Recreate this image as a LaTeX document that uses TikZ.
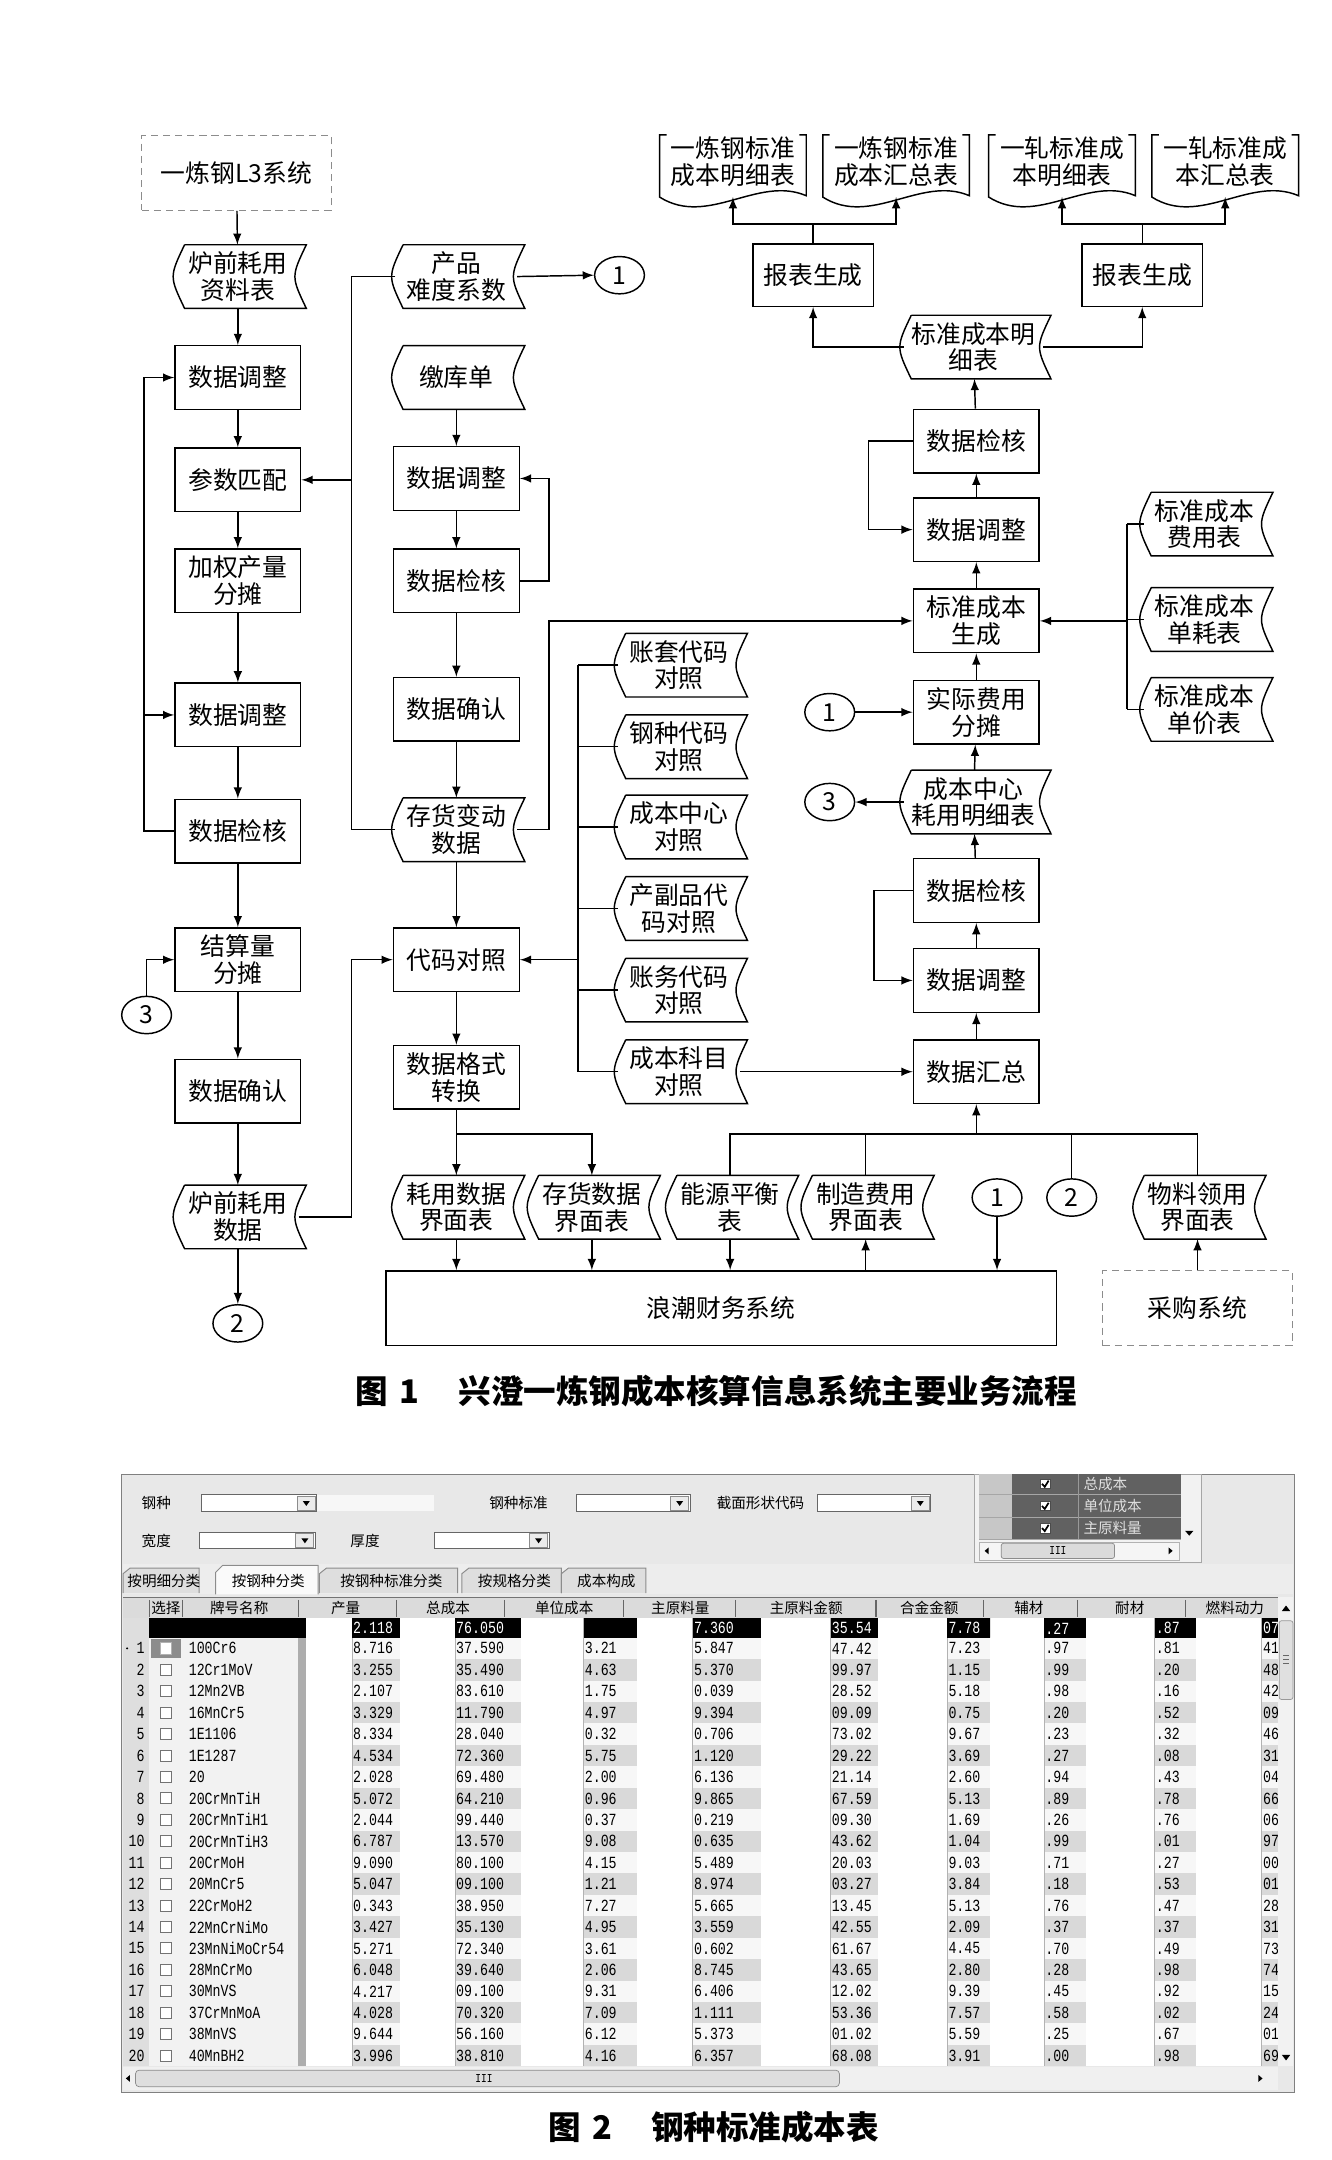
\documentclass[tikz,border=0pt]{standalone}
\usepackage{fontspec}
\setmainfont{Noto Sans CJK SC}
\newfontfamily\numfont[FakeStretch=0.78]{Liberation Mono}
\usetikzlibrary{positioning,arrows,calc,shapes.geometric}

\newcommand\flowfont{\fontsize{10.2}{11}\selectfont}
\newcommand\tabfont{\fontsize{6}{7}\selectfont}
\newcommand\numf{\numfont\fontsize{7}{7}\selectfont}

\tikzset{
  box/.style={draw, minimum width=1.82cm, minimum height=0.92cm, inner sep=0pt, align=center, font=\flowfont},
  repbox/.style={box, minimum width=1.74cm, minimum height=0.9cm},
  sysbox/.style={draw=black!45, densely dashed, line width=0.5pt, minimum width=2.74cm, minimum height=1.08cm, inner sep=0pt, font=\flowfont},
  tape/.style={minimum width=1.74cm, minimum height=0.9cm, inner sep=0pt, align=center, font=\flowfont},
  widetape/.style={tape, minimum width=2cm},
  doc/.style={minimum width=2.1cm, minimum height=0.76cm, inner sep=0pt, align=center, font=\flowfont},
  conn/.style={draw, ellipse, minimum width=0.72cm, minimum height=0.54cm, inner sep=0pt, font=\flowfont},
  lbl/.style={font=\tabfont, inner sep=0pt},
  num/.style={font=\numf, inner sep=0pt, anchor=west},
  capt/.style={font=\fontsize{13.4}{15}\selectfont\bfseries},
}

\begin{document}
\begin{tikzpicture}[x=0.02cm, y=-0.02cm, >=latex, line width=0.6pt]
   \useasboundingbox (0,0) rectangle (963,1562);
   % bus lines
   \coordinate (lbus) at (104,0);
   \coordinate (mbus) at (254,0);
   \coordinate (sbus) at (397,0);
   \coordinate (kbus) at (418,0);
   \coordinate (rbus) at (815,0);
   \coordinate (bbus) at (0,820);
   \coordinate (tbus) at (0,162);

   % left column
   \node[sysbox] (l3)     at (171,125) {一炼钢L3系统};
   \node[tape]   (lqt)    at (172,200) {炉前耗用\\资料表};
   \node[box]    (ladj1)  at (172,273) {数据调整};
   \node[box]    (lmatch) at (172,347) {参数匹配};
   \node[box]    (lweight) at (172,420) {加权产量\\分摊};
   \node[box]    (ladj2)  at (172,517) {数据调整};
   \node[box]    (lchk)   at (172,601) {数据检核};
   \node[box]    (lsettle) at (172,694) {结算量\\分摊};
   \node[box]    (lconf)  at (172,789) {数据确认};
   \node[tape]   (lqdata) at (172,880) {炉前耗用\\数据};
   \node[conn]   (c2a)    at (172,957) {2};
   \node[conn]   (c3a)    at (106,734) {3};

   % middle column
   \node[tape]   (mdiff)  at (330,200) {产品\\难度系数};
   \node[conn]   (c1a)    at (448,199) {1};
   \node[tape]   (mstore) at (330,273) {缴库单};
   \node[box]    (madj)   at (330,346) {数据调整};
   \node[box]    (mchk)   at (330,420) {数据检核};
   \node[box]    (mconf)  at (330,513) {数据确认};
   \node[tape]   (mstock) at (330,600) {存货变动\\数据};
   \node[box]    (mcode)  at (330,694) {代码对照};
   \node[box]    (mfmt)   at (330,779) {数据格式\\转换};

   % code tables
   \node[tape] (k1) at (491,481) {账套代码\\对照};
   \node[tape] (k2) at (491,540) {钢种代码\\对照};
   \node[tape] (k3) at (491,598) {成本中心\\对照};
   \node[tape] (k4) at (491,657) {产副品代\\码对照};
   \node[tape] (k5) at (491,716) {账务代码\\对照};
   \node[tape] (k6) at (491,775) {成本科目\\对照};

   % right column
   \node[widetape] (rdet)  at (704,251) {标准成本明\\细表};
   \node[box]    (rchk1)  at (706,319) {数据检核};
   \node[box]    (radj1)  at (706,383) {数据调整};
   \node[box]    (rgen)   at (706,449) {标准成本\\生成};
   \node[box]    (ralloc) at (706,515) {实际费用\\分摊};
   \node[widetape] (rcc)   at (704,580) {成本中心\\耗用明细表};
   \node[box]    (rchk2)  at (706,644) {数据检核};
   \node[box]    (radj2)  at (706,709) {数据调整};
   \node[box]    (rsum)   at (706,775) {数据汇总};
   \node[conn]   (c1b)    at (600,515) {1};
   \node[conn]   (c3b)    at (600,580) {3};

   % reports
   \node[repbox] (rep1) at (588,199) {报表生成};
   \node[repbox] (rep2) at (826,199) {报表生成};
   \node[doc] (d1) at (530,117) {一炼钢标准\\成本明细表};
   \node[doc] (d2) at (648,117) {一炼钢标准\\成本汇总表};
   \node[doc] (d3) at (768,117) {一轧标准成\\本明细表};
   \node[doc] (d4) at (886,117) {一轧标准成\\本汇总表};
   \foreach \d in {d1,d2,d3,d4} \coordinate (\d w) at ($(\d.south)+(0,6)$);

   % standard tables
   \node[tape] (s1) at (871,379) {标准成本\\费用表};
   \node[tape] (s2) at (871,448) {标准成本\\单耗表};
   \node[tape] (s3) at (871,513) {标准成本\\单价表};

   % bottom row
   \node[tape] (b1) at (330,873) {耗用数据\\界面表};
   \node[tape] (b2) at (428,873) {存货数据\\界面表};
   \node[tape] (b3) at (528,873) {能源平衡\\表};
   \node[tape] (b4) at (626,873) {制造费用\\界面表};
   \node[conn] (c1c) at (721,866) {1};
   \node[conn] (c2b) at (775,866) {2};
   \node[tape] (b5) at (866,873) {物料领用\\界面表};
   \node[draw, minimum width=9.7cm, minimum height=1.08cm, inner sep=0pt, font=\flowfont] (erp) at (521.5,946) {浪潮财务系统};
   \node[sysbox] (buy) at (866,946) {采购系统};

   % tape and document outlines
   \foreach \t in {lqt,lqdata,mdiff,mstore,mstock,k1,k2,k3,k4,k5,k6,rdet,rcc,s1,s2,s3,b1,b2,b3,b4,b5}
     \draw ([xshift=0.11cm]\t.north west) -- ([xshift=0.11cm]\t.north east)
       .. controls ([xshift=-0.11cm]\t.east) .. ([xshift=0.11cm]\t.south east)
       -- ([xshift=0.11cm]\t.south west)
       .. controls ([xshift=-0.11cm]\t.west) .. ([xshift=0.11cm]\t.north west);
   \foreach \d in {d1,d2,d3,d4}
     \draw ($(\d.north west)+(5,0)$) -- (\d.north west) -- ($(\d.south west)+(0,6)$)
       .. controls ($(\d.south west)+(35,28)$) and ($(\d.south east)+(-35,-10)$) .. ($(\d.south east)+(0,5)$)
       -- (\d.north east) -- ++(-5,0);

   % connectors
   \foreach \a/\b in {l3/lqt,lqt/ladj1,ladj1/lmatch,lmatch/lweight,lweight/ladj2,ladj2/lchk,lchk/lsettle,lsettle/lconf,lconf/lqdata,lqdata/c2a,
       mstore/madj,madj/mchk,mchk/mconf,mconf/mstock,mstock/mcode,mcode/mfmt,mfmt/b1,
       rsum/radj2,radj2/rchk2,rchk2/rcc,rcc/ralloc,ralloc/rgen,rgen/radj1,radj1/rchk1,rchk1/rdet}
     \draw[->] (\a) -- (\b);
   \draw[->] (lchk.west) -- (lchk.west -| lbus) -- (lbus |- ladj1.west) -- (ladj1.west);
   \draw[->] (lbus |- ladj2.west) -- (ladj2.west);
   \draw[->] (c3a.north) |- (lsettle.west);
   \draw[->] (mdiff.east) -- (c1a.west);
   \draw (mdiff.west) -- (mdiff.west -| mbus) -- (mbus |- mstock.west) -- (mstock.west);
   \draw[->] (mbus |- lmatch.east) -- (lmatch.east);
   \draw[->] (mchk.east) -- (mchk.east -| sbus) -- (sbus |- madj.east) -- (madj.east);
   \draw[->] (mstock.east) -- (mstock.east -| sbus) |- (rgen.west);
   \draw[->] (lqdata.east) -- (lqdata.east -| mbus) |- (mcode.west);
   \draw[->] (mfmt.south |- bbus) -| (b2.north);
   \foreach \k in {k1,k2,k3,k4,k5,k6} \draw (\k.west) -- (\k.west -| kbus);
   \draw (kbus |- k1.west) -- (kbus |- k6.west);
   \draw[->] (kbus |- mcode.east) -- (mcode.east);
   \draw[->] (k6.east) -- (rsum.west);
   \draw[->] (rchk1.west) -- ++(-32,0) |- (radj1.west);
   \draw[->] (rchk2.west) -- ++(-28,0) |- (radj2.west);
   \draw[->] (c1b) -- (ralloc);
   \draw[->] (rcc) -- (c3b);
   \draw[->] (rdet.west) -| (rep1.south);
   \draw[->] (rdet.east) -| (rep2.south);
   \draw[->] (rep1.north) -- (rep1.north |- tbus) -| (d1w);
   \draw[->] (rep1.north |- tbus) -| (d2w);
   \draw[->] (rep2.north) -- (rep2.north |- tbus) -| (d3w);
   \draw[->] (rep2.north |- tbus) -| (d4w);
   \foreach \s in {s1,s2,s3} \draw (\s.west) -- (\s.west -| rbus);
   \draw (rbus |- s1.west) -- (rbus |- s3.west);
   \draw[->] (rbus |- rgen.east) -- (rgen.east);
   \draw (b3.north) -- (b3.north |- bbus) -- (b5.north |- bbus) -- (b5.north);
   \foreach \n in {b4,c2b} \draw (\n.north) -- (\n.north |- bbus);
   \draw[->] (rsum.south |- bbus) -- (rsum.south);
   \foreach \n in {b1,b2,b3,c1c} \draw[->] (\n.south) -- (\n.south |- erp.north);
   \draw[->] (b4.south |- erp.north) -- (b4.south);
   \draw[->] (buy) -- (b5);

   \node[capt] (cap1) at (518,1006) {图\hspace{0.35em}1\hspace{1.2em}兴澄一炼钢成本核算信息系统主要业务流程};

   % screenshot: frame and filters
   \filldraw[fill=black!9, draw=black!50, line width=0.5pt] (88,1066) rectangle (936,1513);
   \node[lbl] at (113,1087) {钢种};
   \node[lbl] at (113,1114) {宽度};
   \node[lbl] at (375,1087) {钢种标准};
   \node[lbl] at (264,1114) {厚度};
   \node[lbl] at (550,1087) {截面形状代码};
   \fill[black!3] (229,1081) rectangle (314,1093);
   \foreach \xa/\xb/\yc in {146/229/1087, 417/499/1087, 591/673/1087, 144/228/1114, 314/397/1114} {
     \filldraw[fill=white, draw=black!60, line width=0.4pt] (\xa,\yc-6) rectangle (\xb,\yc+6);
     \filldraw[fill=black!8, draw=black!45, line width=0.4pt] (\xb-14,\yc-5) rectangle (\xb-1,\yc+5);
     \fill (\xb-10,\yc-1.5) -- (\xb-5,\yc-1.5) -- (\xb-7.5,\yc+2) -- cycle;
   }
   % column picker
   \filldraw[fill=black!5, draw=black!35, line width=0.4pt] (705,1066) rectangle (869,1130);
   \fill[black!22] (708,1066) rectangle (732,1113);
   \fill[black!62] (732,1066) rectangle (854,1113);
   \foreach \yc/\t in {1073/总成本, 1089/单位成本, 1105/主原料量} {
     \draw[black!35, line width=0.4pt] (708,\yc+8) -- (854,\yc+8);
     \filldraw[fill=white, draw=black!70, line width=0.3pt] (752,\yc-3.5) rectangle (759.5,\yc+3.5);
     \draw[line width=0.7pt] (753.5,\yc) -- (755.5,\yc+2.2) -- (758.3,\yc-2.3);
     \node[lbl, anchor=west, text=black!12] at (783,\yc) {\t};
   }
   \draw[black!40, line width=0.4pt] (780,1066) -- (780,1113);
   \filldraw[fill=black!4, draw=black!30, line width=0.3pt] (708,1115) rectangle (853,1128);
   \filldraw[fill=black!14, draw=black!45, line width=0.3pt, rounded corners=1pt] (724,1116) rectangle (806,1127);
   \node[font=\numfont\fontsize{5}{5}\selectfont, inner sep=0pt] at (765,1121.5) {III};
   \fill (712,1121.5) -- (715,1119) -- (715,1124) -- cycle;
   \fill (848,1121.5) -- (845,1119) -- (845,1124) -- cycle;
   \fill (857,1107) -- (863,1107) -- (860,1110.5) -- cycle;

   % tabs
   \fill[black!7] (89,1131) rectangle (935,1153);
   \foreach \xa/\xb/\t in {89/144/按明细分类, 231/331/按钢种标准分类, 334/406/按规格分类, 406/467/成本构成} {
     \filldraw[fill=black!13, draw=black!45, line width=0.4pt] (\xa,1152) -- (\xa,1138) -- (\xa+5,1134) -- (\xb,1134) -- (\xb,1152);
     \node[lbl] at ({(\xa+\xb)/2+2},1143) {\t};
   }
   \filldraw[fill=black!2, draw=black!45, line width=0.4pt] (156,1153) -- (156,1137) -- (161,1132) -- (230,1132) -- (230,1153);
   \node[lbl] at (194,1143) {按钢种分类};

   % header
   \fill[black!14] (89,1155) rectangle (924,1170);
   \draw[black!55, line width=0.4pt] (89,1155) -- (924,1155);
   \foreach \x in {108,132,215.6,287,365,451,532,633.5,711,779,857}
     \draw[black!60, line width=0.5pt] (\x,1157) -- (\x,1169);
   \foreach \x/\t in {120/选择, 173/牌号名称, 250/产量, 324/总成本, 408/单位成本, 492/主原料量, 583/主原料金额, 672/合金金额, 744/辅材, 817/耐材, 893/燃料动力}
     \node[lbl] at (\x,1163) {\t};

   % rows
   \fill[black!13] (89,1170) rectangle (108,1494);
   \fill[black!5] (108,1170) rectangle (215.6,1494);
   \fill[black!32] (215.6,1170) rectangle (221.6,1494);
   \foreach \i in {1,...,20} {
     \pgfmathsetmacro\yt{1184.25+(\i-1)*15.5}
     \pgfmathtruncatemacro\odd{mod(\i,2)}
     \ifnum\odd=0 \fill[black!15] (221.6,\yt) rectangle (924,\yt+15.5); \else \fill[black!3] (221.6,\yt) rectangle (924,\yt+15.5); \fi
   }
   \foreach \wa/\wb in {221.6/254.5, 289/329, 377/422, 461/501, 550.6/600.7, 635/685, 716/755, 785/835, 865/912.5} {
     \fill[white] (\wa,1170) rectangle (\wb,1494);
     \draw[black!30, line width=0.3pt] (\wb,1170) -- (\wb,1494);
   }
   % summary row
   \fill[black] (108,1170) rectangle (221.6,1184.25);
   \foreach \ca/\wa/\wb/\cb in {287/289/329/365, 365/377/422/451, 451/461/501/532, 532/550.6/600.7/633.5, 633.5/635/685/716, 716/716/755/779, 779/785/835/857, 857/865/912.5/924} {
     \fill[black] (\ca,1170) rectangle (\wa,1184.25);
     \fill[black] (\wb,1170) rectangle (\cb,1184.25);
   }
   \fill[black] (254.5,1170) rectangle (287,1184.25);
   \foreach \x/\v in {254.5/2.118, 329/76.050, 501/7.360, 600.7/35.54, 685/7.78, 755/.27, 835/.87, 912.5/07}
     \node[num, text=white] at (\x+0.4,1177.5) {\v};
   \foreach \i/\nm/\pa/\pb/\pc/\pd/\pe/\pf/\pg/\ph/\pk in {
       1/100Cr6/8.716/37.590/3.21/5.847/47.42/7.23/.97/.81/41,
       2/12Cr1MoV/3.255/35.490/4.63/5.370/99.97/1.15/.99/.20/48,
       3/12Mn2VB/2.107/83.610/1.75/0.039/28.52/5.18/.98/.16/42,
       4/16MnCr5/3.329/11.790/4.97/9.394/09.09/0.75/.20/.52/09,
       5/1E1106/8.334/28.040/0.32/0.706/73.02/9.67/.23/.32/46,
       6/1E1287/4.534/72.360/5.75/1.120/29.22/3.69/.27/.08/31,
       7/20/2.028/69.480/2.00/6.136/21.14/2.60/.94/.43/04,
       8/20CrMnTiH/5.072/64.210/0.96/9.865/67.59/5.13/.89/.78/66,
       9/20CrMnTiH1/2.044/99.440/0.37/0.219/09.30/1.69/.26/.76/06,
       10/20CrMnTiH3/6.787/13.570/9.08/0.635/43.62/1.04/.99/.01/97,
       11/20CrMoH/9.090/80.100/4.15/5.489/20.03/9.03/.71/.27/00,
       12/20MnCr5/5.047/09.100/1.21/8.974/03.27/3.84/.18/.53/01,
       13/22CrMoH2/0.343/38.950/7.27/5.665/13.45/5.13/.76/.47/28,
       14/22MnCrNiMo/3.427/35.130/4.95/3.559/42.55/2.09/.37/.37/31,
       15/23MnNiMoCr54/5.271/72.340/3.61/0.602/61.67/4.45/.70/.49/73,
       16/28MnCrMo/6.048/39.640/2.06/8.745/43.65/2.80/.28/.98/74,
       17/30MnVS/4.217/09.100/9.31/6.406/12.02/9.39/.45/.92/15,
       18/37CrMnMoA/4.028/70.320/7.09/1.111/53.36/7.57/.58/.02/24,
       19/38MnVS/9.644/56.160/6.12/5.373/01.02/5.59/.25/.67/01,
       20/40MnBH2/3.996/38.810/4.16/6.357/68.08/3.91/.00/.98/69} {
     \pgfmathsetmacro\yy{1192+(\i-1)*15.5}
     \node[num, anchor=east] at (105,\yy) {\i};
     \filldraw[fill=white, draw=black!55, line width=0.4pt] (116,\yy-4) rectangle (124,\yy+4);
     \node[num] at (136,\yy) {\nm};
     \node[num] at (254.9,\yy) {\pa};
     \node[num] at (329.4,\yy) {\pb};
     \node[num] at (422.4,\yy) {\pc};
     \node[num] at (501.4,\yy) {\pd};
     \node[num] at (601.1,\yy) {\pe};
     \node[num] at (685.4,\yy) {\pf};
     \node[num] at (755.4,\yy) {\pg};
     \node[num] at (835.4,\yy) {\ph};
     \node[num] at (912.9,\yy) {\pk};
   }
   \fill[black!45] (109,1185) rectangle (131,1199);
   \filldraw[fill=white, draw=black!30, line width=0.3pt] (116,1188) rectangle (124,1196);
   \fill (92,1192) circle (0.8);

   % scrollbars
   \fill[black!5] (924,1155) rectangle (935,1494);
   \fill (927,1165) -- (933,1165) -- (930,1161) -- cycle;
   \filldraw[fill=black!12, draw=black!40, line width=0.3pt, rounded corners=1pt] (925,1172) rectangle (935,1229);
   \foreach \yy in {1197,1200,1203} \draw[black!60, line width=0.3pt] (928,\yy) -- (932,\yy);
   \fill (927,1486) -- (933,1486) -- (930,1490) -- cycle;
   \fill[black!6] (89,1495) rectangle (924,1511);
   \filldraw[fill=black!13, draw=black!45, line width=0.3pt, rounded corners=1.5pt] (98,1497) rectangle (607,1509);
   \node[font=\numfont\fontsize{5}{5}\selectfont, inner sep=0pt] at (350,1503) {III};
   \fill (91,1503) -- (94,1500.5) -- (94,1505.5) -- cycle;
   \fill (913,1503) -- (910,1500.5) -- (910,1505.5) -- cycle;

   \node[capt] (cap2) at (516,1538) {图\hspace{0.35em}2\hspace{1.2em}钢种标准成本表};
\end{tikzpicture}
\end{document}
